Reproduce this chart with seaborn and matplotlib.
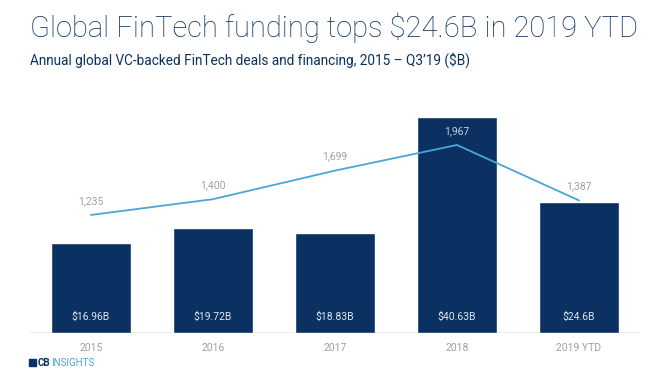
import matplotlib
matplotlib.use("Agg")
import matplotlib.pyplot as plt
import seaborn as sns
import pandas as pd
from matplotlib.patches import Rectangle

years = ["2015", "2016", "2017", "2018", "2019 YTD"]
funding = [16.96, 19.72, 18.83, 40.63, 24.6]
funding_labels = ["$16.96B", "$19.72B", "$18.83B", "$40.63B", "$24.6B"]
deals = [1235, 1400, 1699, 1967, 1387]
deal_labels = ["1,235", "1,400", "1,699", "1,967", "1,387"]

df = pd.DataFrame({"year": years, "funding": funding, "deals": deals})

sns.set_theme(style="white")
plt.rcParams["font.family"] = ["Roboto", "DejaVu Sans"]

navy = "#0a3161"
line_blue = "#4ba6d6"
grey = "#9aa1a9"

fig = plt.figure(figsize=(6.68, 3.89), dpi=100)
ax = fig.add_axes([30/668, 1 - 333/389, 610/668, 238/389])

sns.barplot(data=df, x="year", y="funding", color=navy, width=0.66,
            saturation=1, ax=ax)
ax.set_ylim(0, 44.7)
ax.set_xlim(-0.5, 4.5)
for i, lab in enumerate(funding_labels):
    ax.text(i, 2.0, lab, ha="center", va="bottom", color="#dfe5ee",
            fontsize=7.5)

ax2 = ax.twinx()
sns.lineplot(data=df, x="year", y="deals", color=line_blue, linewidth=1.3,
             ax=ax2, sort=False)
ax2.set_ylim(0, 2490)
for i, (v, lab) in enumerate(zip(deals, deal_labels)):
    c = "#c9d0da" if i == 3 else grey
    ax2.text(i, v + 95, lab, ha="center", va="bottom", color=c, fontsize=7.5)

for a in (ax, ax2):
    for s in a.spines.values():
        s.set_visible(False)
    a.set_ylabel("")
    a.set_yticks([])
ax.set_xlabel("")
ax2.set_xlabel("")
ax.axhline(0, color="#e6e9ec", linewidth=1.2, zorder=0)
ax.tick_params(axis="x", colors=grey, labelsize=7.5, length=0, pad=7)

fig.text(30/668, 1 - 28/389, "Global FinTech funding tops $24.6B in 2019 YTD",
         color=navy, fontsize=21, fontweight="light", va="center", ha="left")
fig.text(30/668, 1 - 60/389,
         "Annual global VC-backed FinTech deals and financing, 2015 \u2013 Q3\u201919 ($B)",
         color=navy, fontsize=9.8, va="center", ha="left")

# logo
fig.patches.append(Rectangle((29/668, 1 - 366/389), 7/668, 7/389,
                             transform=fig.transFigure, color=navy))
fig.text(38/668, 1 - 362.5/389, "CB", color=navy, fontsize=7,
         fontweight="bold", va="center", ha="left")
fig.text(51/668, 1 - 362.5/389, "INSIGHTS", color=line_blue, fontsize=7,
         va="center", ha="left")

fig.savefig("out.png", dpi=100, facecolor="white")
